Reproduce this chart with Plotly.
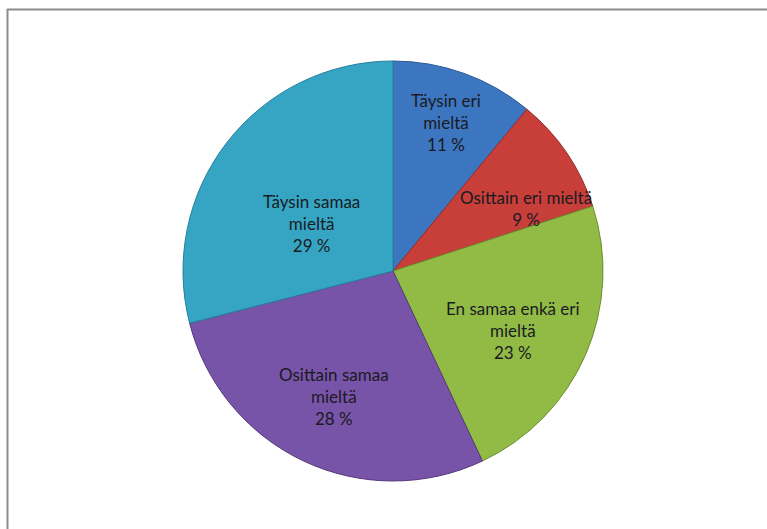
import math
import plotly.graph_objects as go

labels = ["Täysin eri mieltä", "Osittain eri mieltä", "En samaa enkä eri mieltä",
          "Osittain samaa mieltä", "Täysin samaa mieltä"]
text_labels = ["Täysin eri<br>mieltä", "Osittain eri mieltä", "En samaa enkä eri<br>mieltä",
               "Osittain samaa<br>mieltä", "Täysin samaa<br>mieltä"]
values = [11, 9, 23, 28, 29]
colors = ["#3d76c0", "#c83f3a", "#92bb45", "#7854a8", "#36a5c4"]
line_colors = ["#2c5a96", "#922d2a", "#6b8c30", "#56397c", "#25809a"]

# label placement (styling): radial fraction and angular nudge (deg) per slice
label_rfrac = [0.75, 0.70, 0.64, 0.66, 0.45]
label_dtheta = [0, 9, 3, 0, -7.5]

W, H = 767, 529
cx, cy, r = 393, 271, 210

fig = go.Figure(go.Pie(
    labels=labels,
    values=values,
    textinfo="none",
    sort=False,
    direction="clockwise",
    rotation=0,
    marker=dict(colors=colors, line=dict(color=line_colors, width=1)),
    showlegend=False,
    hoverinfo="label+percent",
    domain=dict(x=[(cx - r) / W, (cx + r) / W], y=[(H - cy - r) / H, (H - cy + r) / H]),
))

total = sum(values)
annotations = []
cum = 0
for t, v, rf, dt in zip(text_labels, values, label_rfrac, label_dtheta):
    mid = (cum + v / 2) / total * 360 + dt
    cum += v
    a = math.radians(mid)
    px = cx + rf * r * math.sin(a)
    py = cy - rf * r * math.cos(a)
    annotations.append(dict(
        x=px / W, y=1 - py / H, xref="paper", yref="paper",
        text=f"{t}<br>{v} %", showarrow=False,
        xanchor="center", yanchor="middle", align="center",
        font=dict(family="Lato, Noto Sans, sans-serif", size=17, color="#1a1a22"),
    ))

fig.update_layout(
    width=W, height=H,
    margin=dict(l=0, r=0, t=0, b=0),
    paper_bgcolor="white",
    annotations=annotations,
    shapes=[
        dict(type="line", xref="paper", yref="paper", x0=7 / W, x1=1, y0=1 - 9.5 / H, y1=1 - 9.5 / H,
             line=dict(color="#8c8c8c", width=2)),
        dict(type="line", xref="paper", yref="paper", x0=7.5 / W, x1=7.5 / W, y0=0, y1=1 - 9 / H,
             line=dict(color="#8c8c8c", width=2)),
    ],
)

fig.write_html("out.html", config={"displayModeBar": False},
               post_script="document.body.style.margin='0';document.body.style.overflow='hidden';")
